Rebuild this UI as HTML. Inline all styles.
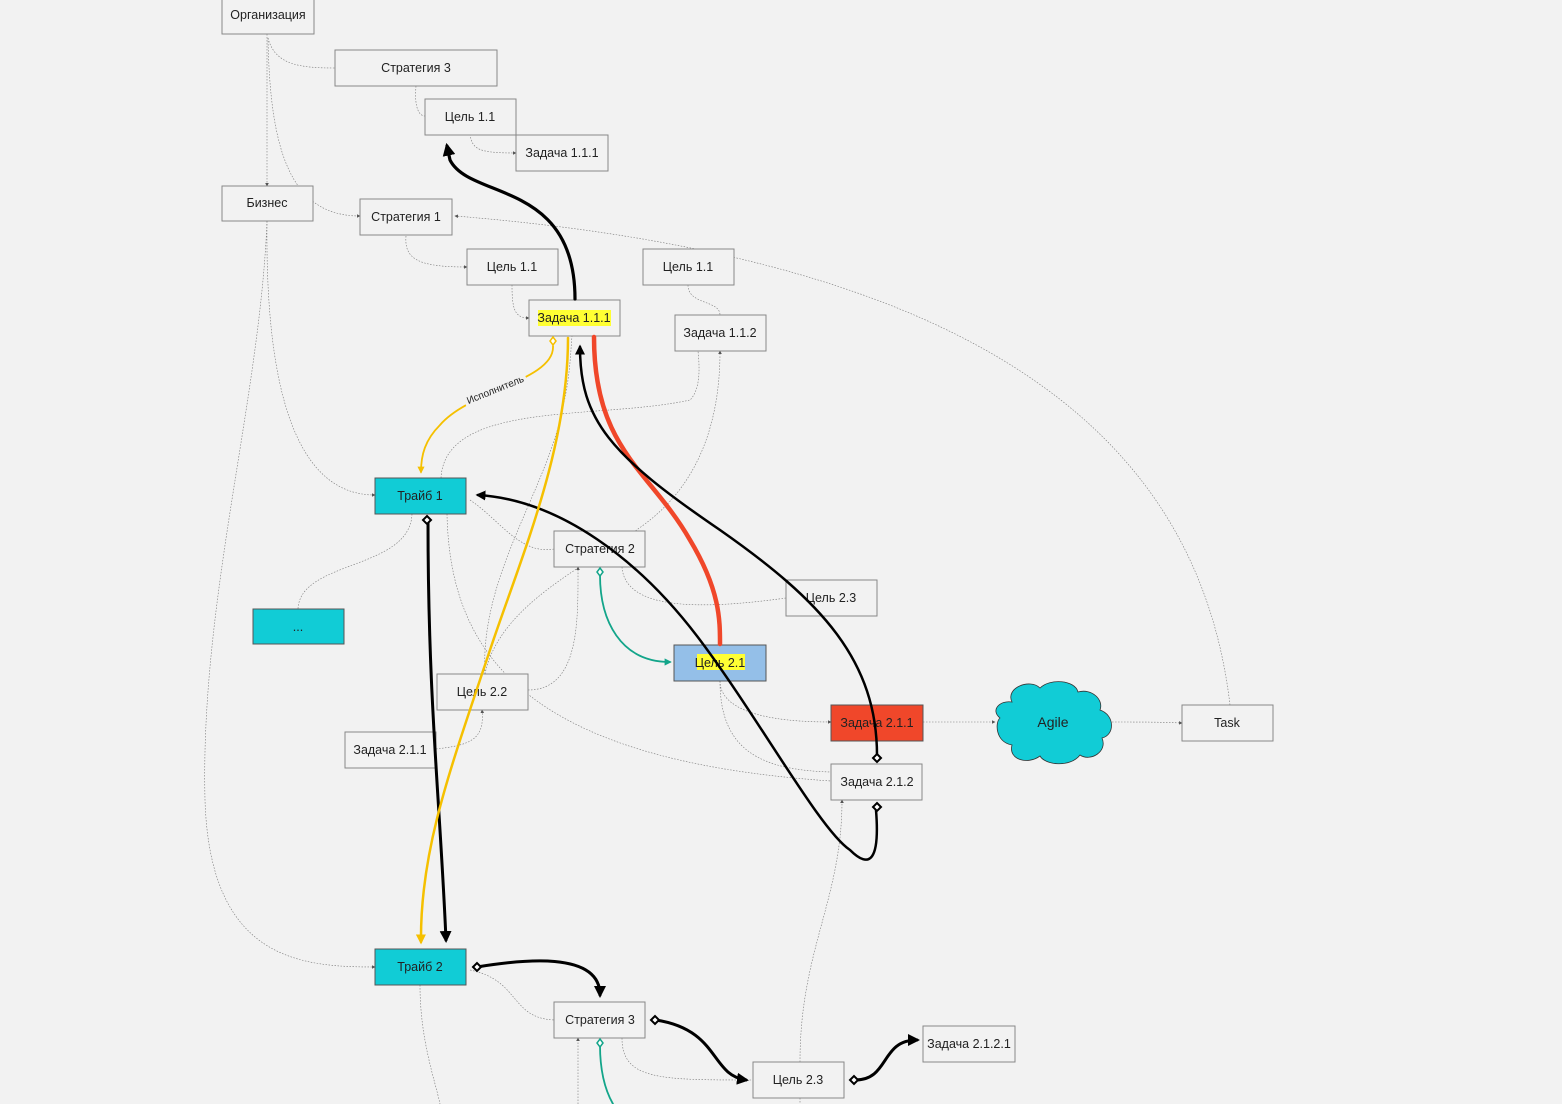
<!DOCTYPE html>
<html><head><meta charset="utf-8"><style>
html,body{margin:0;padding:0;background:#f2f2f2;}
svg{display:block;}
text{font-family:"Liberation Sans","DejaVu Sans",sans-serif;font-size:12.5px;fill:#222;}
</style></head><body>
<svg width="1562" height="1104" viewBox="0 0 1562 1104" xmlns="http://www.w3.org/2000/svg">
<defs>
<marker id="ta" markerWidth="6" markerHeight="6" refX="5" refY="3" orient="auto"><path d="M0,0 L6,3 L0,6z" fill="#555"/></marker>
<marker id="bk" markerWidth="4" markerHeight="4" refX="3" refY="2" orient="auto" markerUnits="strokeWidth"><path d="M0,0 L4,2 L0,4z" fill="#000"/></marker>
<marker id="yl" markerWidth="4" markerHeight="4" refX="3" refY="2" orient="auto" markerUnits="strokeWidth"><path d="M0,0 L4,2 L0,4z" fill="#f5c000"/></marker>
<marker id="gr" markerWidth="4" markerHeight="4" refX="3" refY="2" orient="auto" markerUnits="strokeWidth"><path d="M0,0 L4,2 L0,4z" fill="#13a58a"/></marker>
</defs>
<rect width="1562" height="1104" fill="#f2f2f2"/>

<g fill="none" stroke="#777" stroke-width="0.6" stroke-dasharray="1.5,1.5">
<path d="M267,34 L267,186" marker-end="url(#ta)"/>
<path d="M268,38 C275,65 300,68 335,68"/>
<path d="M268,38 C270,150 290,216 360,216" marker-end="url(#ta)"/>
<path d="M416,86 C414,110 420,116 425,116"/>
<path d="M470,134 C472,150 480,153 516,153" marker-end="url(#ta)"/>
<path d="M406,236 C404,260 420,267 467,267" marker-end="url(#ta)"/>
<path d="M512,285 C512,310 515,318 529,318" marker-end="url(#ta)"/>
<path d="M688,285 C688,305 720,300 720,315"/>
<path d="M267,221 C265,400 300,495 375,495" marker-end="url(#ta)"/>
<path d="M267,221 C260,400 200,600 205,800 C210,960 300,967 375,967" marker-end="url(#ta)"/>
<path d="M1230,705 C1200,450 1000,260 455,216" marker-end="url(#ta)"/>
<path d="M441,478 C445,400 600,420 690,400 C700,390 700,370 698,351"/>
<path d="M485,674 C500,600 600,560 650,520 C700,480 720,420 720,351" marker-end="url(#ta)"/>
<path d="M485,674 C480,580 540,500 560,420 C570,380 570,360 572,336"/>
<path d="M470,500 C500,520 520,555 554,549"/>
<path d="M412,514 C410,570 300,560 298,609"/>
<path d="M447,514 C450,650 520,760 831,781"/>
<path d="M528,690 C580,690 578,620 578,567" marker-end="url(#ta)"/>
<path d="M436,749 C470,745 485,740 482,710" marker-end="url(#ta)"/>
<path d="M622,567 C625,610 700,610 786,598"/>
<path d="M720,681 C720,700 740,722 831,722" marker-end="url(#ta)"/>
<path d="M720,681 C720,750 760,770 831,772"/>
<path d="M923,722 L995,722" marker-end="url(#ta)"/>
<path d="M1112,722 C1140,722 1160,722 1182,723" marker-end="url(#ta)"/>
<path d="M800,1062 C800,950 842,900 842,800" marker-end="url(#ta)"/>
<path d="M800,1098 L800,1104"/>
<path d="M420,985 C420,1040 435,1080 440,1104"/>
<path d="M470,970 C520,980 510,1018 554,1020"/>
<path d="M578,1104 L578,1038" marker-end="url(#ta)"/>
<path d="M622,1038 C622,1080 660,1080 753,1080"/>
</g>

<g stroke="#888" stroke-width="1">
<rect x="222" y="-1" width="92" height="35" fill="#f2f2f2"/>
<rect x="335" y="50" width="162" height="36" fill="#f2f2f2"/>
<rect x="425" y="99" width="91" height="36" fill="#f2f2f2"/>
<rect x="516" y="135" width="92" height="36" fill="#f2f2f2"/>
<rect x="222" y="186" width="91" height="35" fill="#f2f2f2"/>
<rect x="360" y="199" width="92" height="36" fill="#f2f2f2"/>
<rect x="467" y="249" width="91" height="36" fill="#f2f2f2"/>
<rect x="643" y="249" width="91" height="36" fill="#f2f2f2"/>
<rect x="529" y="300" width="91" height="36" fill="#f2f2f2"/>
<rect x="675" y="315" width="91" height="36" fill="#f2f2f2"/>
<rect x="375" y="478" width="91" height="36" fill="#11ccd6" stroke="#555"/>
<rect x="554" y="531" width="91" height="36" fill="#f2f2f2"/>
<rect x="253" y="609" width="91" height="35" fill="#11ccd6" stroke="#555"/>
<rect x="786" y="580" width="91" height="36" fill="#f2f2f2"/>
<rect x="674" y="645" width="92" height="36" fill="#94bfe8" stroke="#555"/>
<rect x="437" y="674" width="91" height="36" fill="#f2f2f2"/>
<rect x="345" y="732" width="91" height="36" fill="#f2f2f2"/>
<rect x="831" y="705" width="92" height="36" fill="#f0472a" stroke="#555"/>
<rect x="1182" y="705" width="91" height="36" fill="#f2f2f2"/>
<rect x="831" y="764" width="91" height="36" fill="#f2f2f2"/>
<rect x="375" y="949" width="91" height="36" fill="#11ccd6" stroke="#555"/>
<rect x="554" y="1002" width="91" height="36" fill="#f2f2f2"/>
<rect x="923" y="1026" width="92" height="36" fill="#f2f2f2"/>
<rect x="753" y="1062" width="91" height="36" fill="#f2f2f2"/>
</g>
<path d="M1012,702 C1005,688 1030,678 1040,688 C1050,678 1075,680 1078,692 C1092,688 1104,700 1100,710 C1115,715 1115,735 1102,738 C1108,752 1090,762 1080,755 C1070,768 1045,765 1040,756 C1028,765 1008,760 1012,745 C995,742 995,722 1000,718 C990,710 1000,700 1012,702z" fill="#11ccd6" stroke="#333" stroke-width="0.8"/>
<rect x="538" y="310" width="73" height="16" fill="#ffff33"/>
<rect x="697" y="654" width="48" height="16" fill="#ffff33"/>

<g text-anchor="middle">
<text x="268" y="19">Организация</text>
<text x="416" y="72">Стратегия 3</text>
<text x="470" y="121">Цель 1.1</text>
<text x="562" y="157">Задача 1.1.1</text>
<text x="267" y="207">Бизнес</text>
<text x="406" y="221">Стратегия 1</text>
<text x="512" y="271">Цель 1.1</text>
<text x="688" y="271">Цель 1.1</text>
<text x="574" y="322">Задача 1.1.1</text>
<text x="720" y="337">Задача 1.1.2</text>
<text x="420" y="500">Трайб 1</text>
<text x="600" y="553">Стратегия 2</text>
<text x="298" y="631">...</text>
<text x="831" y="602">Цель 2.3</text>
<text x="720" y="667">Цель 2.1</text>
<text x="482" y="696">Цель 2.2</text>
<text x="390" y="754">Задача 2.1.1</text>
<text x="877" y="727">Задача 2.1.1</text>
<text x="1053" y="727" style="font-size:14px">Agile</text>
<text x="1227" y="727">Task</text>
<text x="877" y="786">Задача 2.1.2</text>
<text x="420" y="971">Трайб 2</text>
<text x="600" y="1024">Стратегия 3</text>
<text x="969" y="1048">Задача 2.1.2.1</text>
<text x="798" y="1084">Цель 2.3</text>
</g>

<g fill="none" stroke-linecap="round">
<path d="M594,337 C594,450 650,470 690,540 C720,590 720,620 720,644" stroke="#f0472a" stroke-width="4.5"/>
<path d="M575,299 C575,180 470,200 450,160 L447,146" stroke="#000" stroke-width="3.2" marker-end="url(#bk)"/>
<path d="M877,758 C878,660 820,600 720,530 C610,455 580,420 580,347" stroke="#000" stroke-width="2.5" marker-end="url(#bk)"/>
<path d="M876,810 C880,860 870,870 850,850 C820,830 760,720 700,640 C640,560 560,500 478,495" stroke="#000" stroke-width="2.5" marker-end="url(#bk)"/>
<path d="M428,522 C428,700 440,800 446,940" stroke="#000" stroke-width="3" marker-end="url(#bk)"/>
<path d="M477,967 C520,960 600,950 600,995" stroke="#000" stroke-width="3" marker-end="url(#bk)"/>
<path d="M656,1020 C720,1030 710,1075 746,1080" stroke="#000" stroke-width="3" marker-end="url(#bk)"/>
<path d="M855,1080 C890,1080 880,1040 917,1040" stroke="#000" stroke-width="3" marker-end="url(#bk)"/>
<path d="M568,338 C568,450 520,560 490,650 C450,770 420,850 421,942" stroke="#f5c000" stroke-width="2.5" marker-end="url(#yl)"/>
<path d="M553,346 C555,380 470,390 440,425 C425,440 421,455 421,472" stroke="#f5c000" stroke-width="1.8" marker-end="url(#yl)"/>
<path d="M600,575 C600,620 620,662 670,662" stroke="#13a58a" stroke-width="1.8" marker-end="url(#gr)"/>
<path d="M600,1045 C600,1070 605,1090 613,1104" stroke="#13a58a" stroke-width="1.8"/>
</g>
<g fill="#fff" stroke="#000" stroke-width="2">
<path d="M427,516 l4,4 -4,4 -4,-4z"/>
<path d="M877,754 l4,4 -4,4 -4,-4z"/>
<path d="M877,803 l4,4 -4,4 -4,-4z"/>
<path d="M473,967 l4,-4 4,4 -4,4z"/>
<path d="M651,1020 l4,-4 4,4 -4,4z"/>
<path d="M850,1080 l4,-4 4,4 -4,4z"/>
</g>
<path d="M553,337 l3,4 -3,4 -3,-4z" fill="#fff" stroke="#f5c000" stroke-width="1.5"/>
<path d="M600,568 l3,4 -3,4 -3,-4z" fill="#fff" stroke="#13a58a" stroke-width="1.5"/>
<path d="M600,1039 l3,4 -3,4 -3,-4z" fill="#fff" stroke="#13a58a" stroke-width="1.5"/>
<rect x="462" y="382" width="66" height="14" fill="#f2f2f2" transform="rotate(-22 495 389)"/>
<text x="495" y="393" text-anchor="middle" style="font-size:10px" transform="rotate(-22 495 389)">Исполнитель</text>
</svg>
</body></html>
